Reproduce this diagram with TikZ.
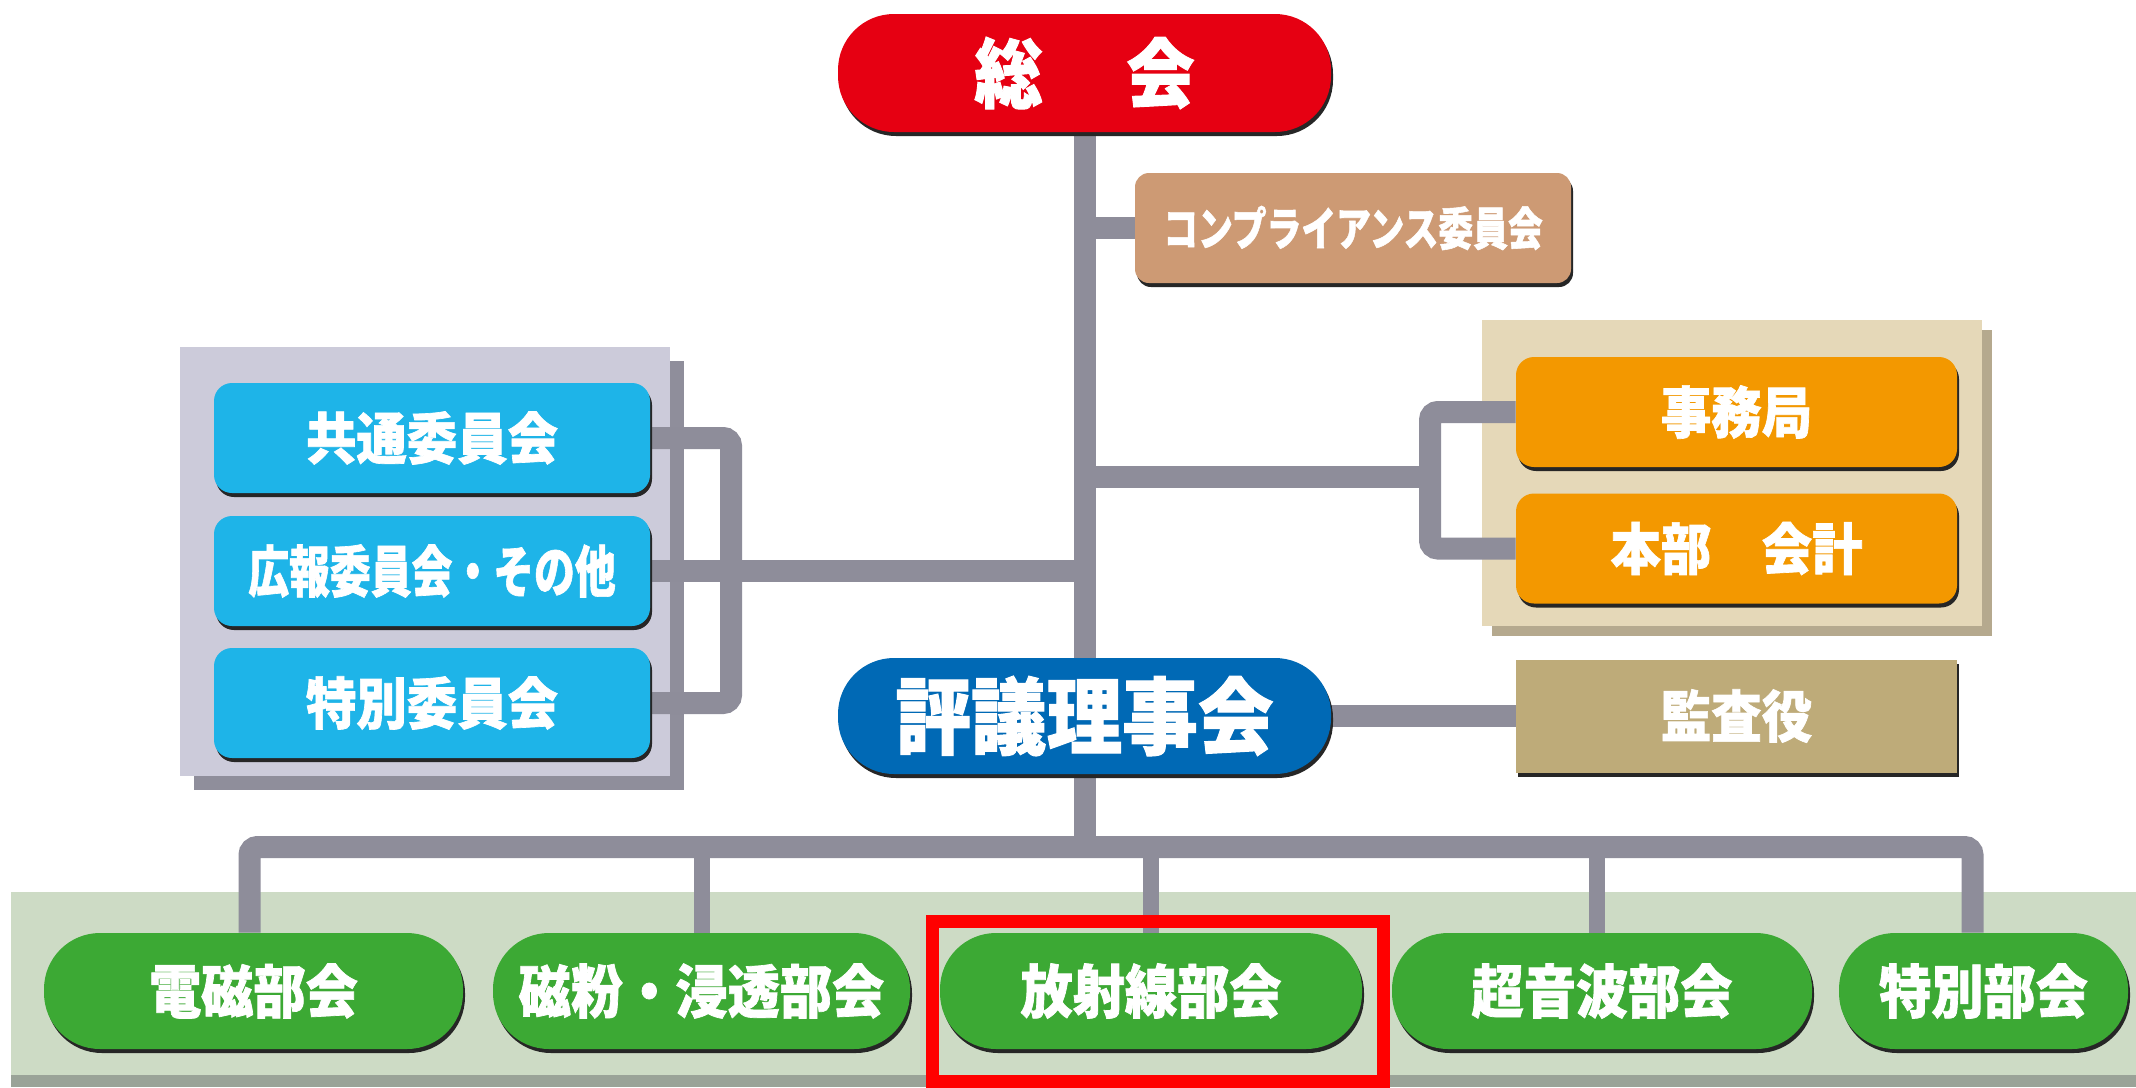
\documentclass[tikz,border=0pt]{standalone}
\usepackage{fontspec}
\newfontfamily\jp{Noto Sans CJK JP}[FakeStretch=0.9, BoldFeatures={FakeBold=1.2}]
\usetikzlibrary{shadows}
\pgfdeclarelayer{groundlayer}
\pgfdeclarelayer{pipelayer}
\pgfsetlayers{groundlayer,pipelayer,main}
\definecolor{redc}{HTML}{E60012}
\definecolor{tanc}{HTML}{CD9A74}
\definecolor{lavc}{HTML}{CCCBDA}
\definecolor{lavs}{HTML}{8F8E9B}
\definecolor{bluec}{HTML}{1EB4E8}
\definecolor{beic}{HTML}{E5D8B8}
\definecolor{beis}{HTML}{B5A98E}
\definecolor{orc}{HTML}{F39800}
\definecolor{dbluec}{HTML}{0069B5}
\definecolor{khac}{HTML}{BEAB79}
\definecolor{bandc}{HTML}{CDDBC5}
\definecolor{bands}{HTML}{9AA398}
\definecolor{grc}{HTML}{3CA934}
\definecolor{pipec}{HTML}{8E8D9A}
\begin{document}
\begin{tikzpicture}[x=0.5pt,y=-0.5pt,
  box/.style={draw=none, text=white, font=\jp\bfseries, inner sep=0pt,
    drop shadow={shadow xshift=1pt, shadow yshift=-2pt, opacity=1, fill=black!85}},
  pill/.style={box, rounded corners=28pt},
  rbox/.style={box, rounded corners=9pt},
  pipe/.style={draw=pipec, line width=11pt},
  droppipe/.style={draw=pipec, line width=8pt}
]
\useasboundingbox (0,0) rectangle (2136,1087);

\begin{pgfonlayer}{groundlayer}
\fill[white] (0,0) rectangle (2136,1087);
\fill[lavs] (194,361) rectangle (684,790);
\fill[lavc] (180,347) rectangle (670,776);
\fill[beis] (1492,330) rectangle (1992,636);
\fill[beic] (1482,320) rectangle (1982,626);
\fill[bands] (11,900) rectangle (2136,1087);
\fill[bandc] (11,892) rectangle (2136,1075);
\end{pgfonlayer}

% nodes
\node[pill, fill=redc, minimum width=246.5pt, minimum height=59pt, font=\jp\bfseries\fontsize{38pt}{38pt}\selectfont] (soukai) at (1084.5,73) {総\hspace{1.1em}会};
\node[rbox, fill=tanc, minimum width=218pt, minimum height=55pt, rounded corners=7pt, font=\jp\bfseries\fontsize{23pt}{23pt}\selectfont] (comp) at (1353,228) {\scalebox{0.84}[1]{コンプライアンス委員会}};

\node[rbox, fill=bluec, minimum width=218pt, minimum height=55pt, font=\jp\bfseries\fontsize{28pt}{28pt}\selectfont] (b1) at (432,438) {共通委員会};
\node[rbox, fill=bluec, minimum width=218pt, minimum height=55pt, font=\jp\bfseries\fontsize{28pt}{28pt}\selectfont] (b2) at (432,571) {\scalebox{0.81}[1]{広報委員会・その他}};
\node[rbox, fill=bluec, minimum width=218pt, minimum height=55pt, font=\jp\bfseries\fontsize{28pt}{28pt}\selectfont] (b3) at (432,703) {特別委員会};

\node[rbox, fill=orc, minimum width=220.5pt, minimum height=55pt, font=\jp\bfseries\fontsize{28pt}{28pt}\selectfont] (o1) at (1736.5,412) {事務局};
\node[rbox, fill=orc, minimum width=220.5pt, minimum height=55pt, font=\jp\bfseries\fontsize{28pt}{28pt}\selectfont] (o2) at (1736.5,548.5) {本部　会計};

\node[pill, fill=dbluec, minimum width=246.5pt, minimum height=58pt, font=\jp\bfseries\fontsize{42pt}{42pt}\selectfont] (hyougi) at (1084.5,716) {評議理事会};
\node[box, fill=khac, minimum width=220.5pt, minimum height=56.5pt, font=\jp\bfseries\fontsize{28pt}{28pt}\selectfont] (kansa) at (1736.5,716) {監査役};

\node[pill, fill=grc, minimum width=209.5pt, minimum height=58pt, font=\jp\bfseries\fontsize{29pt}{29pt}\selectfont] (g1) at (253.5,991) {電磁部会};
\node[pill, fill=grc, minimum width=208.5pt, minimum height=58pt, font=\jp\bfseries\fontsize{29pt}{29pt}\selectfont] (g2) at (701.5,991) {磁粉・浸透部会};
\node[pill, fill=grc, minimum width=211pt, minimum height=58pt, font=\jp\bfseries\fontsize{29pt}{29pt}\selectfont] (g3) at (1151,991) {放射線部会};
\node[pill, fill=grc, minimum width=210pt, minimum height=58pt, font=\jp\bfseries\fontsize{29pt}{29pt}\selectfont] (g4) at (1602,991) {超音波部会};
\node[pill, fill=grc, minimum width=144.5pt, minimum height=58pt, font=\jp\bfseries\fontsize{29pt}{29pt}\selectfont] (g5) at (1983.5,991) {特別部会};

% red highlight frame
\draw[red, line width=6.5pt] (932.5,1081) rectangle (1383.5,921.5);

% connectors (behind nodes)
\coordinate (lb) at (731,0);
\coordinate (rb) at (1430,0);
\coordinate (rj) at (1430,477);
\coordinate (bar) at (0,847);
\begin{pgfonlayer}{pipelayer}
\draw[pipe] (soukai.south) -- (hyougi.north);
\draw[pipe] (comp.west) -- (comp.west -| soukai.south);
\draw[pipe, rounded corners=4pt] (b1.east) -- (b1.east -| lb) -- (b3.east -| lb) -- (b3.east);
\draw[pipe] (b2.east) -- (b2.east -| soukai.south);
\draw[pipe, rounded corners=4pt] (o1.west) -- (o1.west -| rb) -- (o2.west -| rb) -- (o2.west);
\draw[pipe] (rj) -- (rj -| soukai.south);
\draw[pipe] (hyougi.east) -- (kansa.west);
\draw[pipe] (hyougi.south) -- (hyougi.south |- bar);
\draw[pipe, rounded corners=4pt] ([xshift=-2pt]g1.north) -- ([xshift=-2pt]g1.north |- bar) -- ([xshift=-5.5pt]g5.north |- bar) -- ([xshift=-5.5pt]g5.north);
\draw[droppipe] (g2.north) -- (g2.north |- bar);
\draw[droppipe] (g3.north) -- (g3.north |- bar);
\draw[droppipe] ([xshift=-2.5pt]g4.north) -- ([xshift=-2.5pt]g4.north |- bar);
\end{pgfonlayer}
\end{tikzpicture}
\end{document}
